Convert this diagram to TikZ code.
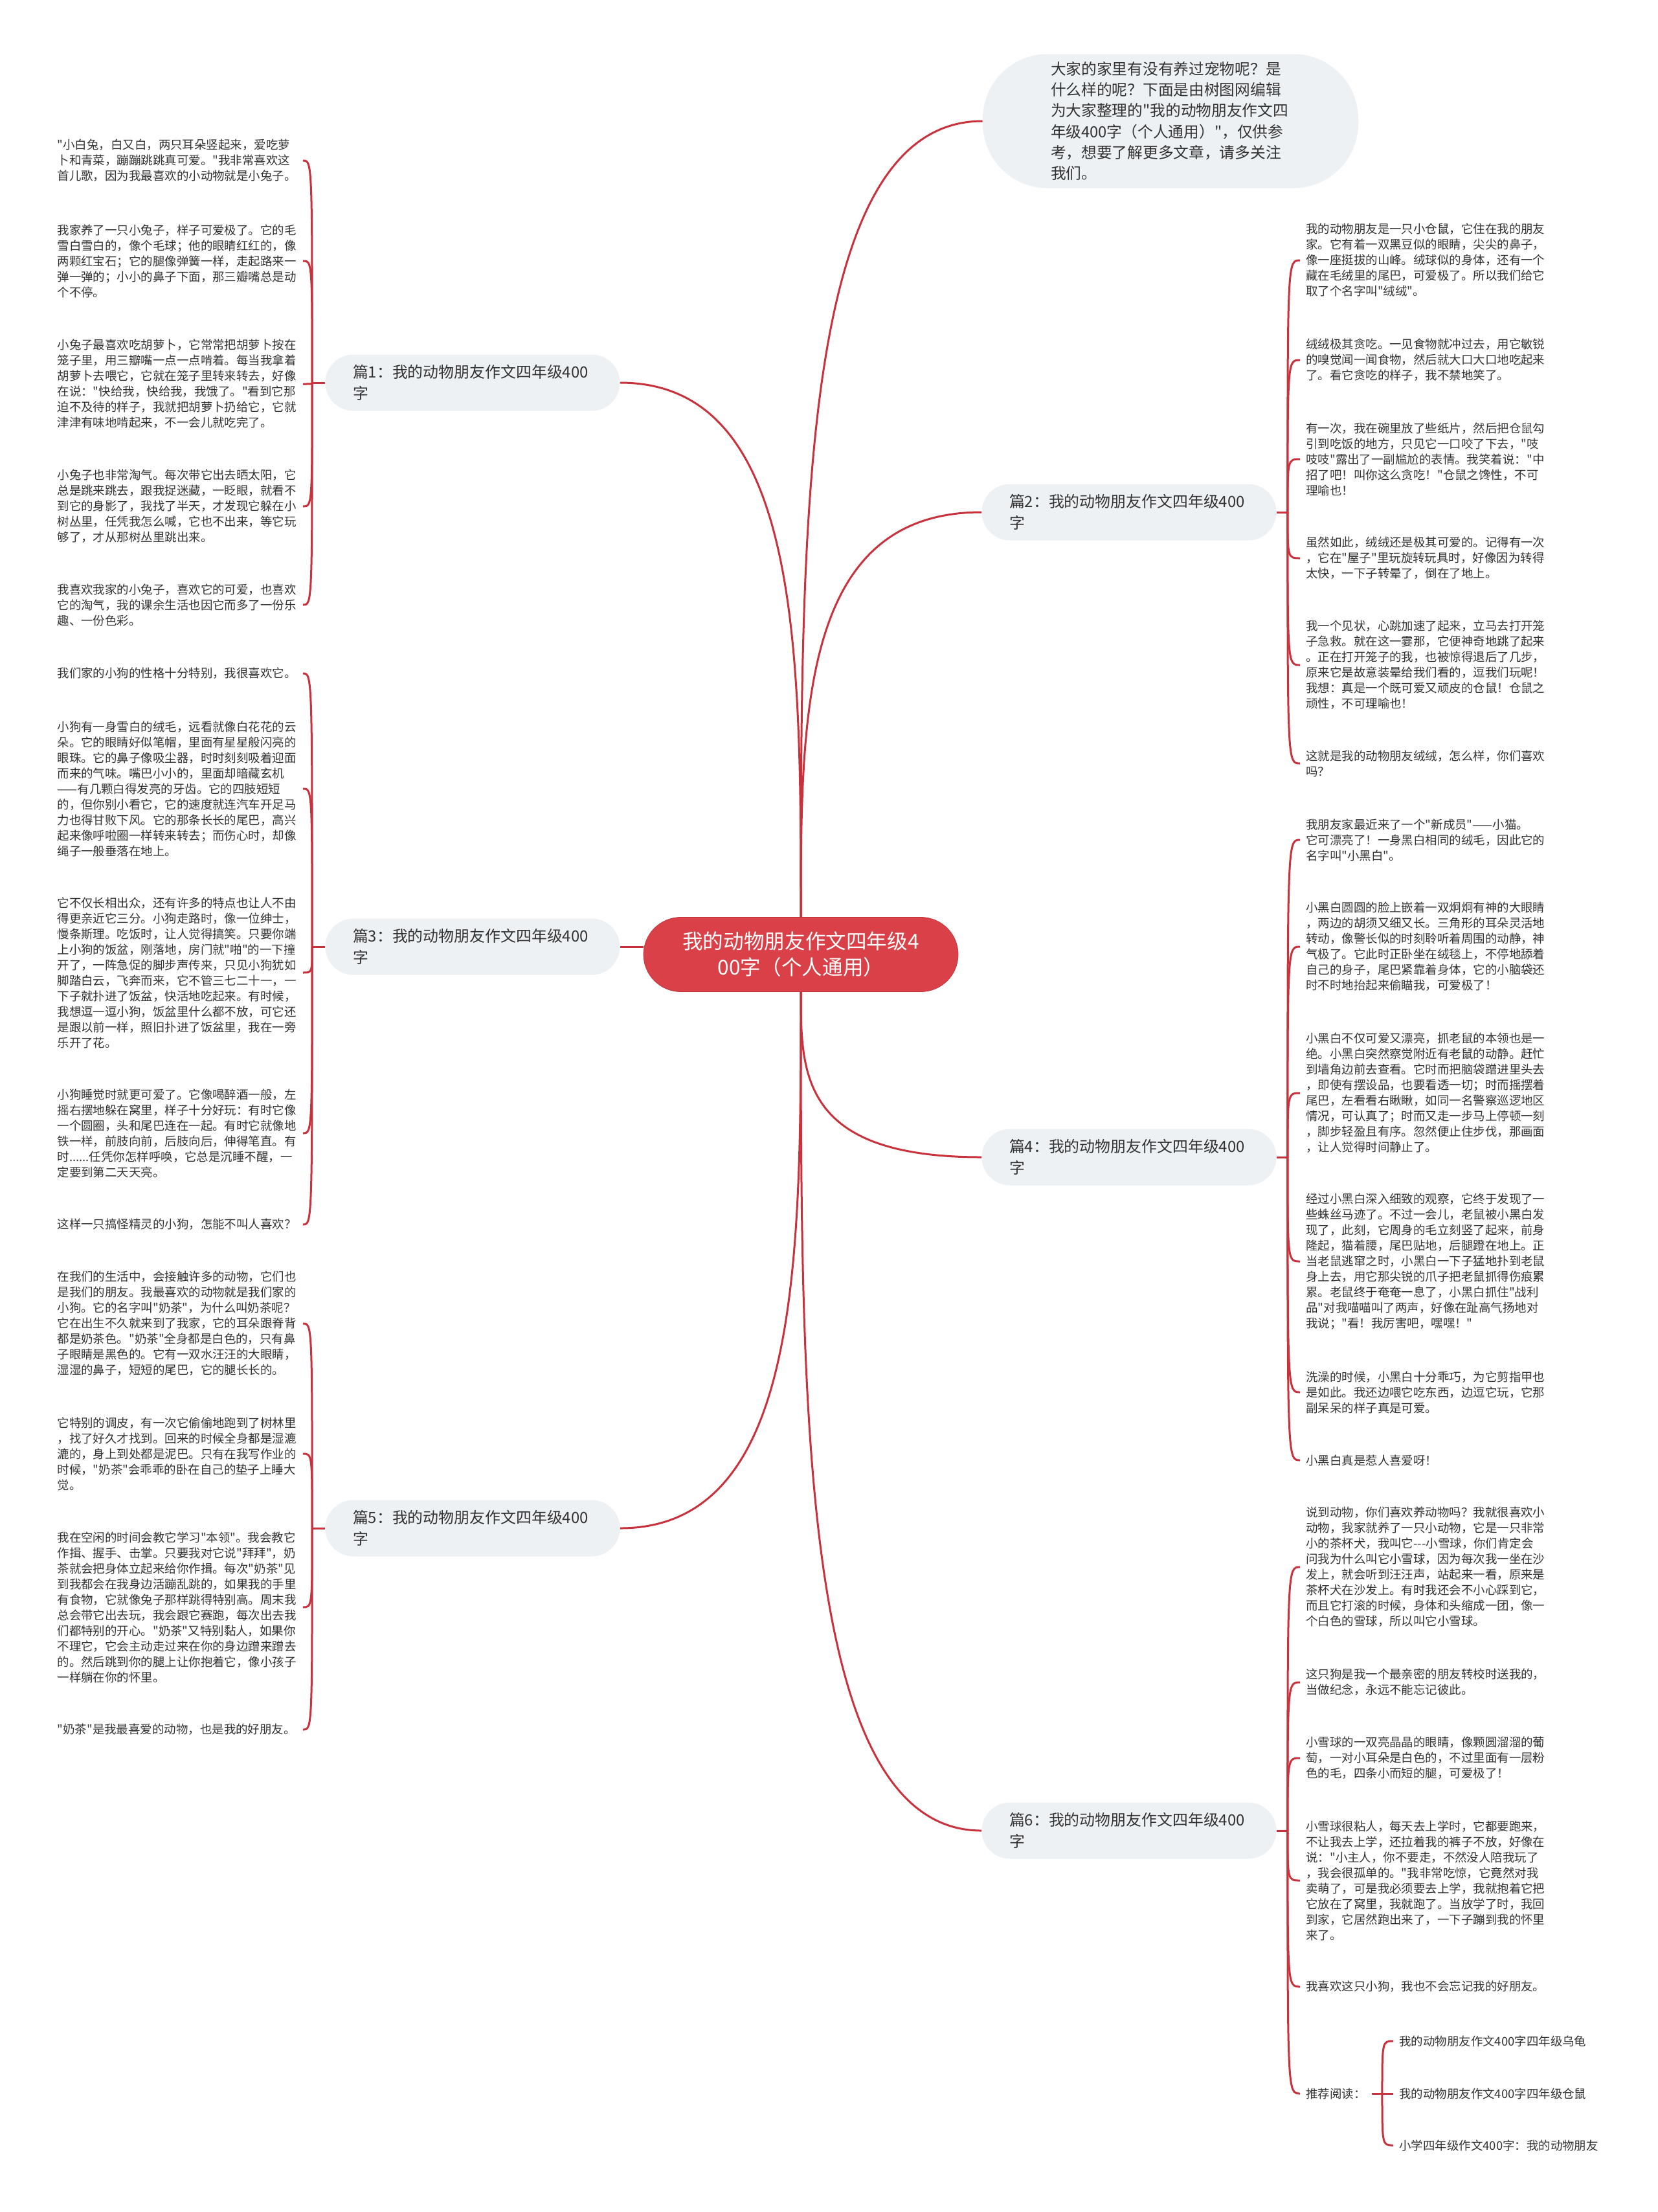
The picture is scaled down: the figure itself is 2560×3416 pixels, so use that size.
\documentclass[tikz,border=0pt]{standalone}
\usepackage{fontspec}
\newfontfamily\cjk{Noto Sans CJK SC}
\usetikzlibrary{calc}

\definecolor{linkred}{HTML}{C8323C}
\definecolor{rootred}{HTML}{DA4048}
\definecolor{bubblegray}{HTML}{EEF1F4}
\definecolor{inkgray}{HTML}{333333}

\tikzset{
  link/.style={draw=linkred, line width=0.6mm},
  root/.style={fill=rootred, draw=rootred!85!black, rounded corners=11.5mm,
    minimum width=97.2mm, minimum height=23mm, align=center, text=white,
    font={\cjk\fontsize{18}{22.8}\selectfont}},
  bubble/.style={fill=bubblegray, rounded corners=20mm, minimum width=116mm,
    minimum height=41.4mm, text width=74mm, inner xsep=21mm, align=left, text=inkgray,
    font={\cjk\fontsize{13.5}{18.3}\selectfont}},
  topic/.style={fill=bubblegray, rounded corners=8.7mm, minimum width=91mm,
    minimum height=17.4mm, text width=74mm, inner xsep=8.5mm, align=left, text=inkgray,
    font={\cjk\fontsize{13.6}{19}\selectfont}},
  leaf/.style={text width=74mm, inner xsep=1.8mm, inner ysep=0pt, align=left, text=inkgray,
    font={\cjk\fontsize{10.5}{13.66}\selectfont}},
  leafl/.style={leaf, anchor=east},
  leafr/.style={leaf, anchor=west},
  note/.style={inner xsep=1.8mm, inner ysep=0pt, anchor=west, text=inkgray,
    font={\cjk\fontsize{10.5}{13.66}\selectfont}}
}

\begin{document}
\begin{tikzpicture}[x=0.2mm, y=-0.2mm]
  \fill[white] (0,0) rectangle (2560,3416);
  \useasboundingbox (0,0) rectangle (2560,3416);

  % centre and main topics
  \node[root] (c) at (1237,1474) {我的动物朋友作文四年级4\\00字（个人通用）};
  \node[bubble] (intro) at (1808,187) {大家的家里有没有养过宠物呢？是\\什么样的呢？下面是由树图网编辑\\为大家整理的"我的动物朋友作文四\\年级400字（个人通用）"，仅供参\\考，想要了解更多文章，请多关注\\我们。};
  \node[topic] (b1) at (730,591) {篇1：我的动物朋友作文四年级400\\字};
  \node[topic] (b3) at (730,1462) {篇3：我的动物朋友作文四年级400\\字};
  \node[topic] (b5) at (730,2360) {篇5：我的动物朋友作文四年级400\\字};
  \node[topic] (b2) at (1744,791) {篇2：我的动物朋友作文四年级400\\字};
  \node[topic] (b4) at (1744,1787) {篇4：我的动物朋友作文四年级400\\字};
  \node[topic] (b6) at (1744,2827) {篇6：我的动物朋友作文四年级400\\字};

  % centre to topics
  \draw[link] (c.north) .. controls ($(c.north)!0.5!(c.north |- intro.west)$) and (c.north |- intro.west) .. (intro.west);
  \draw[link] (c.north) .. controls ($(c.north)!0.5!(c.north |- b1.east)$) and (c.north |- b1.east) .. (b1.east);
  \draw[link] (c.north) .. controls ($(c.north)!0.5!(c.north |- b2.west)$) and (c.north |- b2.west) .. (b2.west);
  \draw[link] (b3.east) -- (c.west |- b3.east);
  \draw[link] (c.south) .. controls ($(c.south)!0.5!(c.south |- b4.west)$) and (c.south |- b4.west) .. (b4.west);
  \draw[link] (c.south) .. controls ($(c.south)!0.5!(c.south |- b5.east)$) and (c.south |- b5.east) .. (b5.east);
  \draw[link] (c.south) .. controls ($(c.south)!0.5!(c.south |- b6.west)$) and (c.south |- b6.west) .. (b6.west);

  % forks
  \coordinate (j1) at ([xshift=-4mm]b1.west);
  \coordinate (j3) at ([xshift=-4mm]b3.west);
  \coordinate (j5) at ([xshift=-4mm]b5.west);
  \coordinate (j2) at ([xshift=3.4mm]b2.east);
  \coordinate (j4) at ([xshift=3.4mm]b4.east);
  \coordinate (j6) at ([xshift=3.4mm]b6.east);
  \draw[link] (b1.west) -- (j1);
  \draw[link] (b3.west) -- (j3);
  \draw[link] (b5.west) -- (j5);
  \draw[link] (b2.east) -- (j2);
  \draw[link] (b4.east) -- (j4);
  \draw[link] (b6.east) -- (j6);

  % 篇1
  \node[leafl] (l1a) at (468,248) {"小白兔，白又白，两只耳朵竖起来，爱吃萝\\卜和青菜，蹦蹦跳跳真可爱。"我非常喜欢这\\首儿歌，因为我最喜欢的小动物就是小兔子。};
  \node[leafl] (l1b) at (468,403) {我家养了一只小兔子，样子可爱极了。它的毛\\雪白雪白的，像个毛球；他的眼睛红红的，像\\两颗红宝石；它的腿像弹簧一样，走起路来一\\弹一弹的；小小的鼻子下面，那三瓣嘴总是动\\个不停。};
  \node[leafl] (l1c) at (468,593) {小兔子最喜欢吃胡萝卜，它常常把胡萝卜按在\\笼子里，用三瓣嘴一点一点啃着。每当我拿着\\胡萝卜去喂它，它就在笼子里转来转去，好像\\在说："快给我，快给我，我饿了。"看到它那\\迫不及待的样子，我就把胡萝卜扔给它，它就\\津津有味地啃起来，不一会儿就吃完了。};
  \node[leafl] (l1d) at (468,782) {小兔子也非常淘气。每次带它出去晒太阳，它\\总是跳来跳去，跟我捉迷藏，一眨眼，就看不\\到它的身影了，我找了半天，才发现它躲在小\\树丛里，任凭我怎么喊，它也不出来，等它玩\\够了，才从那树丛里跳出来。};
  \node[leafl] (l1e) at (468,934) {我喜欢我家的小兔子，喜欢它的可爱，也喜欢\\它的淘气，我的课余生活也因它而多了一份乐\\趣、一份色彩。};
  \draw[link] (j1) .. controls (j1 |- l1a.east) .. (l1a.east);
  \draw[link] (j1) .. controls (j1 |- l1b.east) .. (l1b.east);
  \draw[link] (j1) .. controls (j1 |- l1c.east) .. (l1c.east);
  \draw[link] (j1) .. controls (j1 |- l1d.east) .. (l1d.east);
  \draw[link] (j1) .. controls (j1 |- l1e.east) .. (l1e.east);

  % 篇3
  \node[leafl] (l3a) at (468,1040) {我们家的小狗的性格十分特别，我很喜欢它。};
  \node[leafl] (l3b) at (468,1218) {小狗有一身雪白的绒毛，远看就像白花花的云\\朵。它的眼睛好似笔帽，里面有星星般闪亮的\\眼珠。它的鼻子像吸尘器，时时刻刻吸着迎面\\而来的气味。嘴巴小小的，里面却暗藏玄机\\——有几颗白得发亮的牙齿。它的四肢短短\\的，但你别小看它，它的速度就连汽车开足马\\力也得甘败下风。它的那条长长的尾巴，高兴\\起来像呼啦圈一样转来转去；而伤心时，却像\\绳子一般垂落在地上。};
  \node[leafl] (l3c) at (468,1502) {它不仅长相出众，还有许多的特点也让人不由\\得更亲近它三分。小狗走路时，像一位绅士，\\慢条斯理。吃饭时，让人觉得搞笑。只要你端\\上小狗的饭盆，刚落地，房门就"啪"的一下撞\\开了，一阵急促的脚步声传来，只见小狗犹如\\脚踏白云，飞奔而来，它不管三七二十一，一\\下子就扑进了饭盆，快活地吃起来。有时候，\\我想逗一逗小狗，饭盆里什么都不放，可它还\\是跟以前一样，照旧扑进了饭盆里，我在一旁\\乐开了花。};
  \node[leafl] (l3d) at (468,1750) {小狗睡觉时就更可爱了。它像喝醉酒一般，左\\摇右摆地躲在窝里，样子十分好玩：有时它像\\一个圆圈，头和尾巴连在一起。有时它就像地\\铁一样，前肢向前，后肢向后，伸得笔直。有\\时......任凭你怎样呼唤，它总是沉睡不醒，一\\定要到第二天天亮。};
  \node[leafl] (l3e) at (468,1891) {这样一只搞怪精灵的小狗，怎能不叫人喜欢？};
  \draw[link] (j3) .. controls (j3 |- l3a.east) .. (l3a.east);
  \draw[link] (j3) .. controls (j3 |- l3b.east) .. (l3b.east);
  \draw[link] (j3) .. controls (j3 |- l3c.east) .. (l3c.east);
  \draw[link] (j3) .. controls (j3 |- l3d.east) .. (l3d.east);
  \draw[link] (j3) .. controls (j3 |- l3e.east) .. (l3e.east);

  % 篇5
  \node[leafl] (l5a) at (468,2044) {在我们的生活中，会接触许多的动物，它们也\\是我们的朋友。我最喜欢的动物就是我们家的\\小狗。它的名字叫"奶茶"，为什么叫奶茶呢？\\它在出生不久就来到了我家，它的耳朵跟脊背\\都是奶茶色。"奶茶"全身都是白色的，只有鼻\\子眼睛是黑色的。它有一双水汪汪的大眼睛，\\湿湿的鼻子，短短的尾巴，它的腿长长的。};
  \node[leafl] (l5b) at (468,2245) {它特别的调皮，有一次它偷偷地跑到了树林里\\，找了好久才找到。回来的时候全身都是湿漉\\漉的，身上到处都是泥巴。只有在我写作业的\\时候，"奶茶"会乖乖的卧在自己的垫子上睡大\\觉。};
  \node[leafl] (l5c) at (468,2482) {我在空闲的时间会教它学习"本领"。我会教它\\作揖、握手、击掌。只要我对它说"拜拜"，奶\\茶就会把身体立起来给你作揖。每次"奶茶"见\\到我都会在我身边活蹦乱跳的，如果我的手里\\有食物，它就像兔子那样跳得特别高。周末我\\总会带它出去玩，我会跟它赛跑，每次出去我\\们都特别的开心。"奶茶"又特别黏人，如果你\\不理它，它会主动走过来在你的身边蹭来蹭去\\的。然后跳到你的腿上让你抱着它，像小孩子\\一样躺在你的怀里。};
  \node[leafl] (l5d) at (468,2671) {"奶茶"是我最喜爱的动物，也是我的好朋友。};
  \draw[link] (j5) .. controls (j5 |- l5a.east) .. (l5a.east);
  \draw[link] (j5) .. controls (j5 |- l5b.east) .. (l5b.east);
  \draw[link] (j5) .. controls (j5 |- l5c.east) .. (l5c.east);
  \draw[link] (j5) .. controls (j5 |- l5d.east) .. (l5d.east);

  % 篇2
  \node[leafr] (r2a) at (2008,402) {我的动物朋友是一只小仓鼠，它住在我的朋友\\家。它有着一双黑豆似的眼睛，尖尖的鼻子，\\像一座挺拔的山峰。绒球似的身体，还有一个\\藏在毛绒里的尾巴，可爱极了。所以我们给它\\取了个名字叫"绒绒"。};
  \node[leafr] (r2b) at (2008,556) {绒绒极其贪吃。一见食物就冲过去，用它敏锐\\的嗅觉闻一闻食物，然后就大口大口地吃起来\\了。看它贪吃的样子，我不禁地笑了。};
  \node[leafr] (r2c) at (2008,709) {有一次，我在碗里放了些纸片，然后把仓鼠勾\\引到吃饭的地方，只见它一口咬了下去，"吱\\吱吱"露出了一副尴尬的表情。我笑着说："中\\招了吧！叫你这么贪吃！"仓鼠之馋性，不可\\理喻也！};
  \node[leafr] (r2d) at (2008,862) {虽然如此，绒绒还是极其可爱的。记得有一次\\，它在"屋子"里玩旋转玩具时，好像因为转得\\太快，一下子转晕了，倒在了地上。};
  \node[leafr] (r2e) at (2008,1027) {我一个见状，心跳加速了起来，立马去打开笼\\子急救。就在这一霎那，它便神奇地跳了起来\\。正在打开笼子的我，也被惊得退后了几步，\\原来它是故意装晕给我们看的，逗我们玩呢！\\我想：真是一个既可爱又顽皮的仓鼠！仓鼠之\\顽性，不可理喻也！};
  \node[leafr] (r2f) at (2008,1179) {这就是我的动物朋友绒绒，怎么样，你们喜欢\\吗？};
  \draw[link] (j2) .. controls (j2 |- r2a.west) .. (r2a.west);
  \draw[link] (j2) .. controls (j2 |- r2b.west) .. (r2b.west);
  \draw[link] (j2) .. controls (j2 |- r2c.west) .. (r2c.west);
  \draw[link] (j2) .. controls (j2 |- r2d.west) .. (r2d.west);
  \draw[link] (j2) .. controls (j2 |- r2e.west) .. (r2e.west);
  \draw[link] (j2) .. controls (j2 |- r2f.west) .. (r2f.west);

  % 篇4
  \node[leafr] (r4a) at (2008,1297) {我朋友家最近来了一个"新成员"——小猫。\\它可漂亮了！一身黑白相同的绒毛，因此它的\\名字叫"小黑白"。};
  \node[leafr] (r4b) at (2008,1462) {小黑白圆圆的脸上嵌着一双炯炯有神的大眼睛\\，两边的胡须又细又长。三角形的耳朵灵活地\\转动，像警长似的时刻聆听着周围的动静，神\\气极了。它此时正卧坐在绒毯上，不停地舔着\\自己的身子，尾巴紧靠着身体，它的小脑袋还\\时不时地抬起来偷瞄我，可爱极了！};
  \node[leafr] (r4c) at (2008,1688) {小黑白不仅可爱又漂亮，抓老鼠的本领也是一\\绝。小黑白突然察觉附近有老鼠的动静。赶忙\\到墙角边前去查看。它时而把脑袋蹭进里头去\\，即使有摆设品，也要看透一切；时而摇摆着\\尾巴，左看看右瞅瞅，如同一名警察巡逻地区\\情况，可认真了；时而又走一步马上停顿一刻\\，脚步轻盈且有序。忽然便止住步伐，那画面\\，让人觉得时间静止了。};
  \node[leafr] (r4d) at (2008,1948) {经过小黑白深入细致的观察，它终于发现了一\\些蛛丝马迹了。不过一会儿，老鼠被小黑白发\\现了，此刻，它周身的毛立刻竖了起来，前身\\隆起，猫着腰，尾巴贴地，后腿蹬在地上。正\\当老鼠逃窜之时，小黑白一下子猛地扑到老鼠\\身上去，用它那尖锐的爪子把老鼠抓得伤痕累\\累。老鼠终于奄奄一息了，小黑白抓住"战利\\品"对我喵喵叫了两声，好像在趾高气扬地对\\我说；"看！我厉害吧，嘿嘿！"};
  \node[leafr] (r4e) at (2008,2150) {洗澡的时候，小黑白十分乖巧，为它剪指甲也\\是如此。我还边喂它吃东西，边逗它玩，它那\\副呆呆的样子真是可爱。};
  \node[leafr] (r4f) at (2008,2255) {小黑白真是惹人喜爱呀！};
  \draw[link] (j4) .. controls (j4 |- r4a.west) .. (r4a.west);
  \draw[link] (j4) .. controls (j4 |- r4b.west) .. (r4b.west);
  \draw[link] (j4) .. controls (j4 |- r4c.west) .. (r4c.west);
  \draw[link] (j4) .. controls (j4 |- r4d.west) .. (r4d.west);
  \draw[link] (j4) .. controls (j4 |- r4e.west) .. (r4e.west);
  \draw[link] (j4) .. controls (j4 |- r4f.west) .. (r4f.west);

  % 篇6
  \node[leafr] (r6a) at (2008,2420) {说到动物，你们喜欢养动物吗？我就很喜欢小\\动物，我家就养了一只小动物，它是一只非常\\小的茶杯犬，我叫它-\kern0pt-\kern0pt-小雪球，你们肯定会\\问我为什么叫它小雪球，因为每次我一坐在沙\\发上，就会听到汪汪声，站起来一看，原来是\\茶杯犬在沙发上。有时我还会不小心踩到它，\\而且它打滚的时候，身体和头缩成一团，像一\\个白色的雪球，所以叫它小雪球。};
  \node[leafr] (r6b) at (2008,2598) {这只狗是我一个最亲密的朋友转校时送我的，\\当做纪念，永远不能忘记彼此。};
  \node[leafr] (r6c) at (2008,2715) {小雪球的一双亮晶晶的眼睛，像颗圆溜溜的葡\\萄，一对小耳朵是白色的，不过里面有一层粉\\色的毛，四条小而短的腿，可爱极了！};
  \node[leafr] (r6d) at (2008,2904) {小雪球很粘人，每天去上学时，它都要跑来，\\不让我去上学，还拉着我的裤子不放，好像在\\说："小主人，你不要走，不然没人陪我玩了\\，我会很孤单的。"我非常吃惊，它竟然对我\\卖萌了，可是我必须要去上学，我就抱着它把\\它放在了窝里，我就跑了。当放学了时，我回\\到家，它居然跑出来了，一下子蹦到我的怀里\\来了。};
  \node[leafr] (r6e) at (2008,3068) {我喜欢这只小狗，我也不会忘记我的好朋友。};
  \node[note] (r6f) at (2008,3233) {推荐阅读：};
  \draw[link] (j6) .. controls (j6 |- r6a.west) .. (r6a.west);
  \draw[link] (j6) .. controls (j6 |- r6b.west) .. (r6b.west);
  \draw[link] (j6) .. controls (j6 |- r6c.west) .. (r6c.west);
  \draw[link] (j6) .. controls (j6 |- r6d.west) .. (r6d.west);
  \draw[link] (j6) .. controls (j6 |- r6e.west) .. (r6e.west);
  \draw[link] (j6) .. controls (j6 |- r6f.west) .. (r6f.west);

  % 推荐阅读
  \coordinate (j7) at ([xshift=3.2mm]r6f.east);
  \node[note] (s1) at (2152,3152) {我的动物朋友作文400字四年级乌龟};
  \node[note] (s2) at (2152,3233) {我的动物朋友作文400字四年级仓鼠};
  \node[note] (s3) at (2152,3313) {小学四年级作文400字：我的动物朋友};
  \draw[link] (r6f.east) -- (j7);
  \draw[link] (j7) .. controls (j7 |- s1.west) .. (s1.west);
  \draw[link] (j7) -- (s2.west);
  \draw[link] (j7) .. controls (j7 |- s3.west) .. (s3.west);
\end{tikzpicture}
\end{document}
